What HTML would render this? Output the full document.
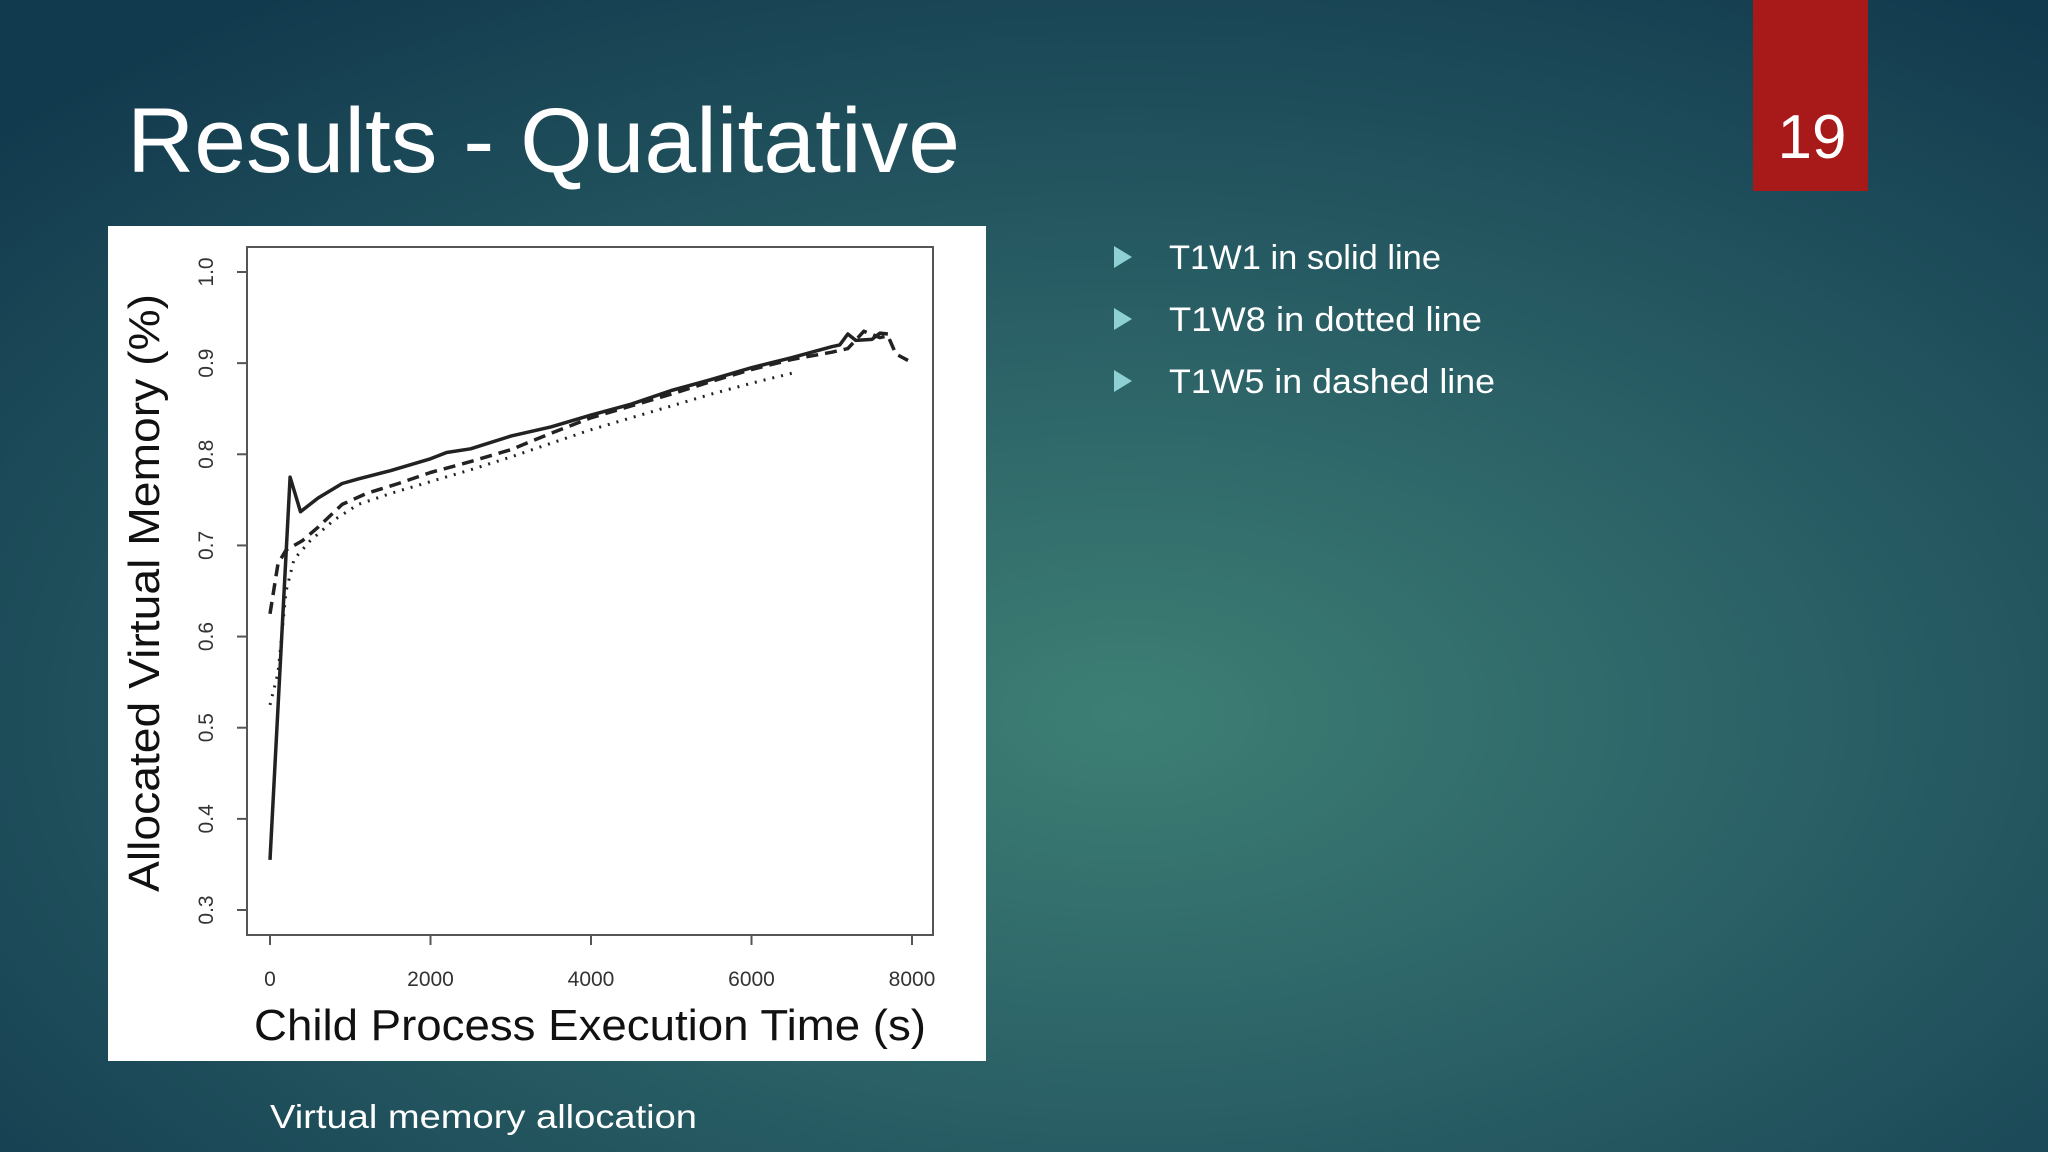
<!DOCTYPE html>
<html><head><meta charset="utf-8"><style>
html,body{margin:0;padding:0;width:2048px;height:1152px;overflow:hidden;background:#1d4b5a}
svg{display:block}
</style></head><body>
<svg id="slide" width="2048" height="1152" viewBox="0 0 2048 1152" xmlns="http://www.w3.org/2000/svg">
<defs>
<radialGradient id="bg" cx="0.55" cy="0.62" r="0.75">
<stop offset="0" stop-color="#3d7f74"/>
<stop offset="0.45" stop-color="#2a6066"/>
<stop offset="1" stop-color="#123a4e"/>
</radialGradient>
</defs>
<rect width="2048" height="1152" fill="url(#bg)"/>
<text x="127" y="172" font-family="Liberation Sans, sans-serif" font-size="92" fill="#ffffff" textLength="833" lengthAdjust="spacingAndGlyphs">Results - Qualitative</text>
<rect x="1753" y="0" width="115" height="191" fill="#a8191a"/>
<text x="1812" y="158" text-anchor="middle" font-family="Liberation Sans, sans-serif" font-size="62" fill="#ffffff">19</text>

<g font-family="Liberation Sans, sans-serif" font-size="34" fill="#ffffff">
<polygon points="1114,246 1132,257 1114,268" fill="#8fd0d4"/>
<text x="1169" y="269" textLength="272" lengthAdjust="spacingAndGlyphs">T1W1 in solid line</text>
<polygon points="1114,308 1132,319 1114,330" fill="#8fd0d4"/>
<text x="1169" y="331" textLength="313" lengthAdjust="spacingAndGlyphs">T1W8 in dotted line</text>
<polygon points="1114,370 1132,381 1114,392" fill="#8fd0d4"/>
<text x="1169" y="393" textLength="326" lengthAdjust="spacingAndGlyphs">T1W5 in dashed line</text>
</g>

<rect x="108" y="226" width="878" height="835" fill="#ffffff"/>
<g id="chart"></g>

<text x="270" y="1128" font-family="Liberation Sans, sans-serif" font-size="33" fill="#ffffff" textLength="427" lengthAdjust="spacingAndGlyphs">Virtual memory allocation</text>
</svg>
<script>
const xTicks = [0, 2000, 4000, 6000, 8000];
const yTicks = [0.3, 0.4, 0.5, 0.6, 0.7, 0.8, 0.9, 1.0];
const solidX = [0,250,380,600,900,1100,1500,2000,2200,2500,3000,3500,4000,4500,5000,5500,6000,6500,7000,7100,7200,7300,7500,7600,7700];
const solidY = [0.355,0.775,0.737,0.752,0.768,0.773,0.782,0.795,0.802,0.806,0.820,0.830,0.843,0.855,0.870,0.882,0.895,0.906,0.918,0.920,0.932,0.925,0.926,0.933,0.932];
const dashedX = [0,100,200,400,600,900,1200,1600,2000,2500,3000,3500,4000,4500,5000,5500,6000,6500,7000,7200,7400,7600,7700,7800,7950];
const dashedY = [0.625,0.68,0.695,0.705,0.72,0.745,0.757,0.768,0.780,0.792,0.805,0.823,0.840,0.853,0.866,0.880,0.893,0.904,0.912,0.916,0.935,0.928,0.930,0.910,0.903];
const dottedX = [0,100,200,300,500,800,1100,1500,2000,2500,3000,3500,4000,4500,5000,5500,6000,6550];
const dottedY = [0.525,0.56,0.65,0.685,0.705,0.728,0.745,0.757,0.770,0.783,0.797,0.812,0.827,0.840,0.853,0.866,0.878,0.890];

const NS = 'http://www.w3.org/2000/svg';
const g = document.getElementById('chart');
const X0 = 270, X1 = 912, Y0 = 910, Y1 = 272;
function sx(v){ return X0 + (v - 0) / 8000 * (X1 - X0); }
function sy(v){ return Y0 - (v - 0.3) / 0.7 * (Y0 - Y1); }
function mk(tag, attrs, parent){
  const e = document.createElementNS(NS, tag);
  for (const k in attrs) e.setAttribute(k, attrs[k]);
  (parent || g).appendChild(e);
  return e;
}
const box = mk('rect', {x:247, y:247, width:686, height:688, fill:'none', stroke:'#555', 'stroke-width':2});



xTicks.forEach(t => {
  const l = mk('line', {x1:sx(t), x2:sx(t), y1:935, y2:945, stroke:'#555', 'stroke-width':2});
  
  
  const tx = mk('text', {x:sx(t), y:986, 'text-anchor':'middle', 'font-family':'Liberation Sans, sans-serif', 'font-size':21, fill:'#333'});
  tx.textContent = t;
  
  
});
yTicks.forEach(t => {
  const l = mk('line', {x1:237, x2:247, y1:sy(t), y2:sy(t), stroke:'#555', 'stroke-width':2});
  
  
  const tx = mk('text', {x:0, y:0, 'text-anchor':'middle', 'font-family':'Liberation Sans, sans-serif', 'font-size':21, fill:'#333', transform:'translate(213,' + sy(t) + ') rotate(-90)'});
  tx.textContent = t.toFixed(1);
  
  
});
const xt = mk('text', {x:590, y:1040, 'text-anchor':'middle', 'font-family':'Liberation Sans, sans-serif', 'font-size':44, fill:'#111', textLength:672, lengthAdjust:'spacingAndGlyphs'});
xt.textContent = 'Child Process Execution Time (s)';


const yt = mk('text', {x:0, y:0, 'text-anchor':'middle', 'font-family':'Liberation Sans, sans-serif', 'font-size':44, fill:'#111', transform:'translate(159,593) rotate(-90)', textLength:598, lengthAdjust:'spacingAndGlyphs'});
yt.textContent = 'Allocated Virtual Memory (%)';



function series(xs, ys, dash, width, name){
  const d = xs.map((x,i) => (i ? 'L' : 'M') + sx(x).toFixed(1) + ',' + sy(ys[i]).toFixed(1)).join(' ');
  const p = mk('path', {d:d, fill:'none', stroke:'#222', 'stroke-width':width, 'stroke-dasharray':dash, 'stroke-linejoin':'round'});
  
  
}
series(dottedX, dottedY, '2 7', 3, 'series-t1w8-dotted');
series(dashedX, dashedY, '12 7', 3.5, 'series-t1w5-dashed');
series(solidX, solidY, 'none', 3.5, 'series-t1w1-solid');
</script>
</body></html>
